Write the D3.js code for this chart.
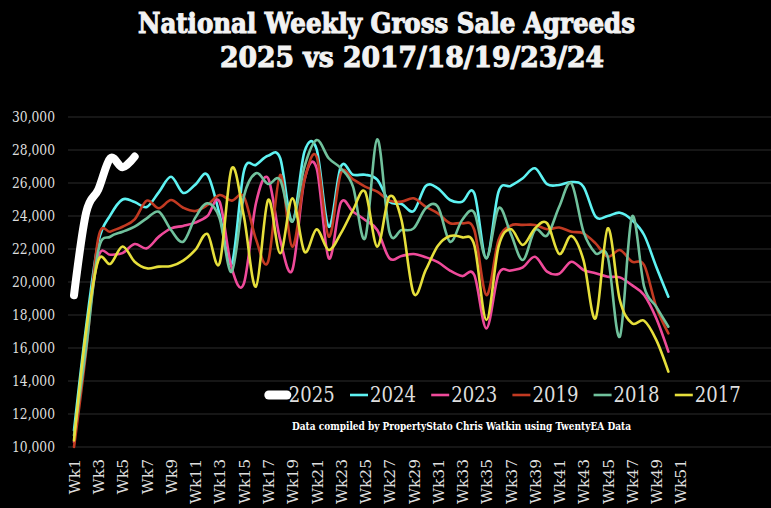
<!DOCTYPE html>
<html>
<head>
<meta charset="utf-8">
<script src="https://cdn.jsdelivr.net/npm/d3@7"></script>
<style>
  html, body { margin: 0; padding: 0; background: #000; }
  svg { display: block; }
  .serif { font-family: "DejaVu Serif", "Liberation Serif", serif; }
</style>
</head>
<body>
<svg id="chart" width="771" height="508"></svg>
<script>
// week labels on the axis
var weeks = d3.range(1, 53).map(function (d) { return "Wk" + d; });
var yTicks = [10000, 12000, 14000, 16000, 18000, 20000, 22000, 24000, 26000, 28000, 30000];

// series
var s2025 = [19200, 24200, 25600, 27500, 26950, 27600];
var s2024 = [11000, 17300, 22400, 24050, 25000, 24850, 24550, 25450, 26380, 25400,
  25900, 26490, 24100, 21100, 26700, 27100, 27650, 27500, 23650, 27900,
  28050, 23350, 27000, 26500, 26500, 26200, 24870, 24730, 24300, 25820,
  25680, 24970, 24870, 25380, 21440, 25470, 25820, 26290, 26890, 25930,
  25880, 26060, 25780, 23960, 24000, 24200, 23760, 22850, 20930, 19110];
var s2023 = [10300, 16500, 21500, 21650, 21750, 22300, 22040, 22750, 23250, 23400,
  23600, 24000, 24870, 20850, 19900, 24770, 26290, 22550, 20730, 26180,
  26900, 21440, 24810, 24260, 23760, 23150, 21440, 21580, 21700, 21500,
  21200, 20690, 20360, 20420, 17190, 20480, 20690, 20890, 21530, 20630,
  20500, 21230, 20730, 20530, 20320, 20280, 19810, 19210, 17800, 15780];
var s2019 = [10000, 15800, 22650, 23050, 23350, 23800, 24930, 24470, 24970, 24500,
  24300, 24670, 25270, 24930, 25170, 22600, 21230, 26490, 22140, 26180,
  27600, 22750, 26590, 26220, 25780, 25470, 24930, 24870, 25070, 24560,
  24160, 23560, 23560, 23150, 19210, 22550, 23420, 23460, 23460, 23200,
  23300, 23050, 22950, 22340, 21530, 21940, 21230, 21030, 18500, 16890];
var s2018 = [10700, 16000, 21900, 22750, 23050, 23350, 23860, 24260, 23150, 22440,
  23900, 24770, 23860, 20620, 25170, 26590, 25940, 26180, 23660, 26990,
  28600, 27500, 26890, 25780, 22650, 28650, 23050, 23150, 23250, 24470,
  24560, 22440, 23760, 24200, 21440, 24470, 22950, 21330, 23150, 22820,
  24560, 25980, 23050, 21740, 21530, 16690, 23960, 19720, 18500, 17290];
var s2017 = [10400, 17000, 21300, 21100, 22150, 21230, 20830, 20930, 20970, 21300,
  21940, 22910, 21130, 26890, 24000, 19720, 24970, 21740, 25070, 21840,
  23190, 21940, 22950, 24360, 25470, 22140, 25170, 23760, 19310, 20730,
  22200, 22790, 22710, 22240, 17700, 22140, 23210, 22240, 23250, 23560,
  21700, 22790, 21330, 17800, 23250, 18910, 17500, 17650, 16490, 14570];

var seriesNames = ["2025", "2024", "2023", "2019", "2018", "2017"];
var seriesData = [s2025, s2024, s2023, s2019, s2018, s2017];
var seriesColors = ["#ffffff", "#5ef2f2", "#ef4a9a", "#c23a22", "#70c19c", "#e6df3b"];
var seriesWidths = [8, 2.6, 2.6, 2.6, 2.6, 2.6];

var svg = d3.select("#chart");
svg.append("rect").attr("width", 771).attr("height", 508).attr("fill", "#000");

var x = d3.scalePoint().domain(weeks).range([74, 74 + 51 * 12.13]);
var y = d3.scaleLinear().domain([10000, 30000]).range([447, 117]);

// grid
svg.append("g").selectAll("line")
  .data(yTicks)
  .enter()
  .append("line")
  .attr("x1", 68).attr("x2", 771)
  .attr("y1", function (d) { return y(d); })
  .attr("y2", function (d) { return y(d); })
  .attr("stroke", "#2c2c2c")
  .attr("stroke-width", 1);

// y axis labels
var yAxis = d3.axisLeft(y).tickValues(yTicks).tickSize(0).tickPadding(0)
  .tickFormat(d3.format(","));
svg.append("g")
  .attr("transform", "translate(55,0)")
  .call(yAxis)
  .call(function (g) { g.select(".domain").remove(); })
  .selectAll("text")
  .attr("class", "serif")
  .attr("fill", "#dedede")
  .style("font-size", "14px")
  .attr("textLength", 43)
  .attr("lengthAdjust", "spacingAndGlyphs");

// x axis labels, every other week, rotated
var xAxis = d3.axisBottom(x)
  .tickValues(weeks.filter(function (d, i) { return i % 2 === 0; }))
  .tickSize(0).tickPadding(0);
svg.append("g")
  .attr("transform", "translate(0,459)")
  .call(xAxis)
  .call(function (g) { g.select(".domain").remove(); })
  .selectAll("text")
  .attr("class", "serif")
  .attr("fill", "#dedede")
  .style("font-size", "15.5px")
  .attr("text-anchor", "end")
  .attr("dy", "0.35em")
  .attr("y", 0)
  .attr("x", 0)
  .attr("transform", "rotate(-90)");

// lines
var line = d3.line()
  .x(function (d, i) { return x(weeks[i]); })
  .y(function (d) { return y(d); })
  .curve(d3.curveCardinal.tension(0));

svg.append("g").selectAll("path")
  .data(seriesData)
  .enter()
  .append("path")
  .attr("d", function (d) { return line(d); })
  .attr("fill", "none")
  .attr("stroke", function (d, i) { return seriesColors[i]; })
  .attr("stroke-width", function (d, i) { return seriesWidths[i]; })
  .attr("stroke-linecap", "round")
  .attr("stroke-linejoin", "round");

// legend
var legend = svg.append("g").selectAll("g")
  .data(seriesNames)
  .enter()
  .append("g")
  .attr("transform", function (d, i) { return "translate(" + (350 + (i - 1) * 81.2) + ",395)"; });

legend.append("line")
  .attr("x1", 0)
  .attr("x2", 18)
  .attr("y1", 0).attr("y2", 0)
  .attr("stroke", function (d, i) { return seriesColors[i]; })
  .attr("stroke-width", function (d, i) { return i === 0 ? 9 : 2.6; })
  .attr("stroke-linecap", function (d, i) { return i === 0 ? "round" : "butt"; });

legend.append("text")
  .attr("class", "serif")
  .attr("x", 20)
  .attr("y", 0)
  .attr("dy", "0.34em")
  .attr("fill", "#dedede")
  .style("font-size", "22px")
  .attr("textLength", 46)
  .attr("lengthAdjust", "spacingAndGlyphs")
  .text(function (d) { return d; });

// titles
svg.append("text")
  .attr("class", "serif")
  .attr("x", 138).attr("y", 33)
  .attr("fill", "#f2f2f2")
  .attr("stroke", "#f2f2f2")
  .attr("stroke-width", 1.1)
  .style("font-size", "28px")
  .style("font-weight", "bold")
  .attr("textLength", 497)
  .attr("lengthAdjust", "spacingAndGlyphs")
  .text("National Weekly Gross Sale Agreeds");

svg.append("text")
  .attr("class", "serif")
  .attr("x", 220).attr("y", 67)
  .attr("fill", "#f2f2f2")
  .attr("stroke", "#f2f2f2")
  .attr("stroke-width", 1.1)
  .style("font-size", "28px")
  .style("font-weight", "bold")
  .attr("textLength", 384)
  .attr("lengthAdjust", "spacingAndGlyphs")
  .text("2025 vs 2017/18/19/23/24");

svg.append("text")
  .attr("class", "serif")
  .attr("x", 292).attr("y", 430)
  .attr("fill", "#fff")
  .style("font-size", "11px")
  .style("font-weight", "bold")
  .attr("textLength", 339)
  .attr("lengthAdjust", "spacingAndGlyphs")
  .text("Data compiled by PropertyStato Chris Watkin using TwentyEA Data");
</script>
</body>
</html>
